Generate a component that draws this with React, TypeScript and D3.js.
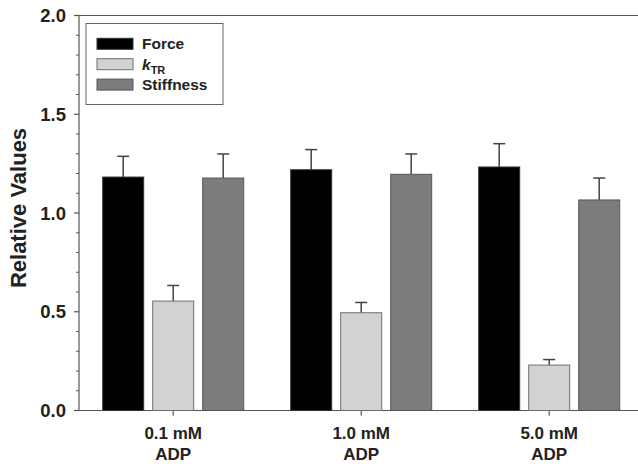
import React from 'react';
import * as d3 from 'd3';

const categories = ['0.1 mM', '1.0 mM', '5.0 mM'];
const seriesNames = ['Force', 'kTR', 'Stiffness'];
const forceValues = [1.182, 1.219, 1.233];
const forceErrors = [0.105, 0.102, 0.118];
const ktrValues = [0.554, 0.495, 0.23];
const ktrErrors = [0.079, 0.052, 0.028];
const stiffValues = [1.177, 1.196, 1.066];
const stiffErrors = [0.122, 0.103, 0.111];
const yTicks = [0, 0.5, 1.0, 1.5, 2.0];

const fills = ['#000000', '#d2d2d2', '#7c7c7c'];
const strokes = ['#333333', '#6e6e6e', '#555555'];

export default function App() {
  const width = 638
    , height = 464
    , left = 79
    , top = 15.5
    , bottom = 410.5
    , font = '"Liberation Sans", Arial, sans-serif';

  const y = d3.scaleLinear().domain([0, 2]).range([bottom, top]);
  const x = d3.scaleBand<string>().domain(categories).range([102.7, 619.7]).paddingInner(0.25).paddingOuter(0);
  const inner = d3.scaleBand<string>().domain(seriesNames).range([0, x.bandwidth()]).paddingInner(0.18);

  const values = [forceValues, ktrValues, stiffValues];
  const errors = [forceErrors, ktrErrors, stiffErrors];

  const minorTicks = d3.range(0, 2.001, 0.1).filter(t => Math.abs(t * 2 - Math.round(t * 2)) > 0.01);

  const bars = seriesNames.map((name, si) => categories.map((c, ci) => {
    let bx = (x(c) as number) + (inner(name) as number)
      , bw = inner.bandwidth()
      , v = values[si][ci]
      , e = errors[si][ci]
      , cx = bx + bw / 2;
    return (
      <g key={name + c}>
        <line x1={cx} x2={cx} y1={y(v)} y2={y(v + e)} stroke="#444" strokeWidth={1.5} />
        <line x1={cx - 6} x2={cx + 6} y1={y(v + e)} y2={y(v + e)} stroke="#444" strokeWidth={1.5} />
        <rect x={bx} y={y(v)} width={bw} height={bottom - y(v)} fill={fills[si]} stroke={strokes[si]} strokeWidth={1} />
      </g>
    );
  }));

  return (
    <svg width={width} height={height} style={{ position: 'absolute', left: 0, top: 0 }} fontFamily={font}>
      <line x1={left} x2={width} y1={top} y2={top} stroke="#555" strokeWidth={1.2} />
      <line x1={left} x2={width} y1={bottom} y2={bottom} stroke="#555" strokeWidth={1.2} />
      <line x1={left} x2={left} y1={top} y2={bottom} stroke="#555" strokeWidth={1.2} />
      {yTicks.map(t => (
        <g key={t}>
          <line x1={left - 5} x2={left} y1={y(t)} y2={y(t)} stroke="#555" strokeWidth={1.2} />
          <text x={66} y={y(t)} dy="0.36em" textAnchor="end" fontSize={18.5} fontWeight="bold" fill="#222">{t.toFixed(1)}</text>
        </g>
      ))}
      {minorTicks.map(t => (
        <line key={t} x1={left - 3} x2={left} y1={y(t)} y2={y(t)} stroke="#555" strokeWidth={1} />
      ))}
      {categories.map(c => {
        let cx = (x(c) as number) + x.bandwidth() / 2;
        return (
          <g key={c}>
            <line x1={cx} x2={cx} y1={bottom} y2={bottom + 5} stroke="#555" strokeWidth={1.2} />
            <text x={cx} y={439} textAnchor="middle" fontSize={17} fontWeight="bold" fill="#222">{c}</text>
            <text x={cx} y={460} textAnchor="middle" fontSize={17} fontWeight="bold" fill="#222">ADP</text>
          </g>
        );
      })}
      {bars}
      <text transform="translate(26,208) rotate(-90)" textAnchor="middle" fontSize={22} fontWeight="bold" fill="#222">Relative Values</text>
      <rect x={86} y={23.5} width={137} height={81} fill="#fff" stroke="#666" strokeWidth={1} />
      {seriesNames.map((name, i) => (
        <g key={name}>
          <rect x={97} y={38.3 + i * 20.4} width={36} height={11} fill={fills[i]} stroke={strokes[i]} strokeWidth={1} />
          <text x={142} y={49.3 + i * 20.4} fontSize={15.5} fontWeight="bold" fill="#222">
            {name === 'kTR' ? <>
              <tspan fontStyle="italic">k</tspan>
              <tspan fontSize={11} dy={4}>TR</tspan>
            </> : name}
          </text>
        </g>
      ))}
    </svg>
  );
}
